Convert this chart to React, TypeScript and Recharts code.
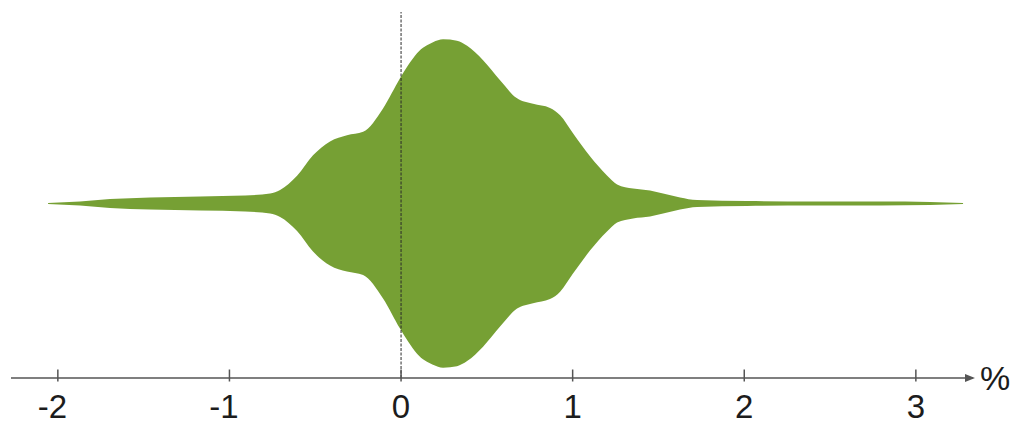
import { AreaChart, Area, XAxis, YAxis, ReferenceLine } from "recharts"

// violin outline: x position (%) and relative half-width (peak = 1)
const X_VALUES = [
  -2.057, -1.871, -1.696, -1.463, -1.171, -0.909, -0.763, -0.705, -0.606, -0.513,
  -0.414, -0.315, -0.221, -0.105, -0.006, 0.041, 0.093, 0.186, 0.245, 0.326,
  0.385, 0.478, 0.577, 0.676, 0.769, 0.868, 0.927, 1.002, 1.101, 1.2,
  1.259, 1.352, 1.451, 1.527, 1.626, 1.725, 2.016, 2.401, 2.791, 3.083, 3.275,
]
const HALF_WIDTHS = [
  0.003, 0.012, 0.027, 0.037, 0.043, 0.049, 0.061, 0.082, 0.168, 0.293,
  0.378, 0.415, 0.436, 0.579, 0.762, 0.841, 0.915, 0.982, 1.0, 0.991,
  0.96, 0.872, 0.75, 0.64, 0.607, 0.582, 0.537, 0.427, 0.287, 0.171,
  0.116, 0.091, 0.079, 0.061, 0.037, 0.021, 0.015, 0.012, 0.012, 0.009, 0.003,
]
const TICKS = [-2, -1, 0, 1, 2, 3]
const UNIT = "%"

const data = X_VALUES.map((x, i) => ({ x, w: HALF_WIDTHS[i] }))

const FONT = "'Liberation Sans', Arial, sans-serif"
const AXIS_COLOR = "#555"
const TEXT_COLOR = "#1c1c1c"
const FONT_SIZE = 33

function AxisTick(props: any) {
  const { x, y, payload } = props
  return (
    <g>
      <line x1={x} x2={x} y1={y - 8.5} y2={y + 3.5} stroke={AXIS_COLOR} strokeWidth={1.5} />
      <text
        x={x + FONT_SIZE * 0.278}
        y={y + 40}
        textAnchor="end"
        fontSize={FONT_SIZE}
        fontFamily={FONT}
        fill={TEXT_COLOR}
      >
        {String(payload.value)}
      </text>
    </g>
  )
}

function AxisArrow(props: any) {
  const vb = props.viewBox ?? props
  const end = vb.x + vb.width
  const y = vb.y
  return (
    <g>
      <polygon
        points={`${end - 8},${y - 4} ${end + 2},${y} ${end - 8},${y + 4}`}
        fill={AXIS_COLOR}
      />
      <text x={end + 7} y={y + 12} fontSize={34} fontFamily={FONT} fill={TEXT_COLOR}>
        {UNIT}
      </text>
    </g>
  )
}

export default function App() {
  return (
    <div style={{ position: "absolute", left: 0, top: 0, background: "#fff" }}>
      <AreaChart
        width={1013}
        height={425}
        data={data}
        margin={{ top: 12, right: 40, bottom: 0, left: 11 }}
      >
        <XAxis
          dataKey="x"
          type="number"
          domain={[-2.273, 3.333]}
          ticks={TICKS}
          interval={0}
          allowDataOverflow
          height={47}
          tickSize={0}
          tickMargin={0}
          tickLine={false}
          tick={<AxisTick />}
          axisLine={{ stroke: AXIS_COLOR, strokeWidth: 1.5 }}
          label={<AxisArrow />}
        />
        <YAxis hide type="number" domain={[-1.063, 1.166]} allowDataOverflow />
        <Area
          type="monotone"
          dataKey={(d: any) => [-d.w, d.w]}
          stroke="none"
          fill="#76A034"
          fillOpacity={1}
          isAnimationActive={false}
          dot={false}
          activeDot={false}
        />
        <ReferenceLine x={0} stroke="#2a2a2a" strokeWidth={1} strokeDasharray="3 1.5" />
      </AreaChart>
    </div>
  )
}
